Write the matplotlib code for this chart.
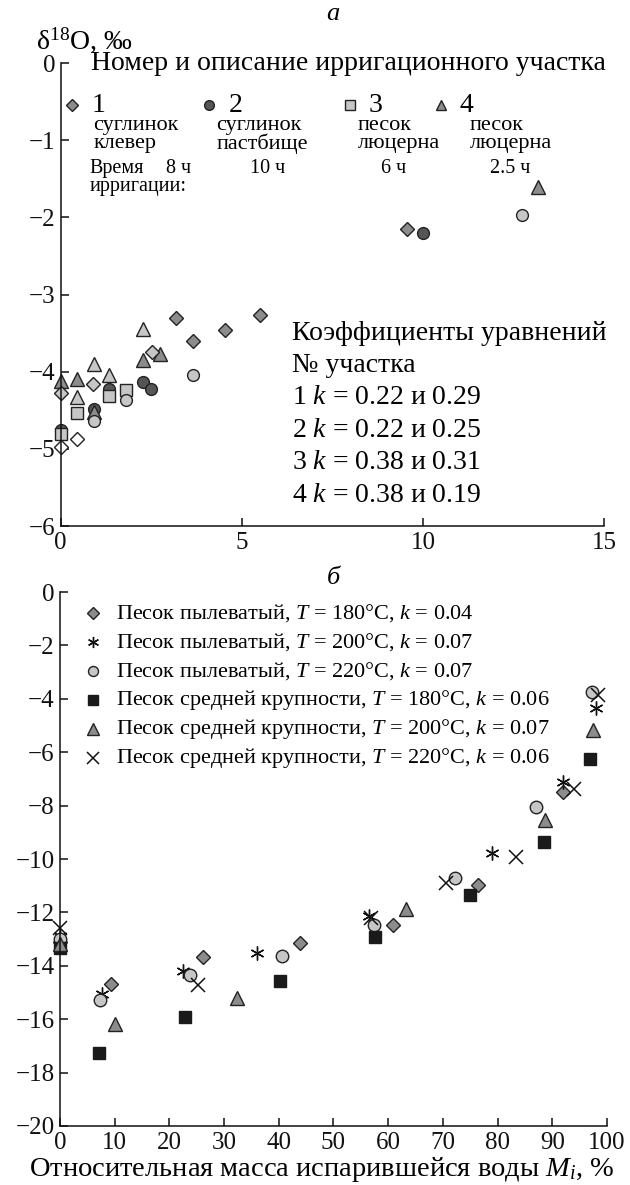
import matplotlib
matplotlib.use("Agg")
import matplotlib.pyplot as plt

plt.rcParams['font.family'] = ['Liberation Serif', 'DejaVu Serif']
plt.rcParams['mathtext.fontset'] = 'custom'
plt.rcParams['mathtext.rm'] = 'Liberation Serif'
plt.rcParams['mathtext.it'] = 'Liberation Serif:italic'
plt.rcParams['mathtext.bf'] = 'Liberation Serif:bold'

# ---------------- Panel a data ----------------
s1_x = [3.18, 3.64, 4.54, 5.49, 9.57]
s1_y = [-3.31, -3.60, -3.46, -3.26, -2.15]
s1l_x = [0.0, 0.90, 2.51]
s1l_y = [-4.28, -4.16, -3.75]
s1w_x = [0.0, 0.46]
s1w_y = [-4.98, -4.87]

s2_x = [0.0, 0.92, 1.34, 2.26, 2.50, 10.0]
s2_y = [-4.75, -4.48, -4.22, -4.14, -4.22, -2.20]
s2l_x = [0.92, 1.80, 3.64, 12.74]
s2l_y = [-4.64, -4.37, -4.04, -1.97]

s3_x = [0.0, 0.46, 1.34, 1.80]
s3_y = [-4.81, -4.53, -4.31, -4.24]

s4_x = [0.0, 0.46, 0.92, 2.26, 2.74, 13.19]
s4_y = [-4.12, -4.10, -4.52, -3.85, -3.77, -1.60]
s4l_x = [0.46, 0.92, 1.34, 2.26]
s4l_y = [-4.33, -3.90, -4.04, -3.45]

site_numbers = ['1', '2', '3', '4']
site_desc = ['суглинок\nклевер', 'суглинок\nпастбище', 'песок\nлюцерна', 'песок\nлюцерна']
site_time = ['8 ч', '10 ч', '6 ч', '2.5 ч']
coef_lines = ['Коэффициенты уравнений', '№ участка',
              '1 $k$ = 0.22 и 0.29', '2 $k$ = 0.22 и 0.25',
              '3 $k$ = 0.38 и 0.31', '4 $k$ = 0.38 и 0.19']

# ---------------- Panel b data ----------------
d1_x = [0, 9.3, 26.2, 43.9, 60.9, 76.5, 92.0]
d1_y = [-13.1, -14.69, -13.68, -13.13, -12.47, -10.97, -7.48]
d2_x = [0, 7.6, 22.4, 36.1, 56.4, 78.9, 91.9, 98.0]
d2_y = [-12.9, -15.07, -14.18, -13.51, -12.15, -9.76, -7.10, -4.35]
d3_x = [0, 7.4, 23.8, 40.5, 57.4, 72.2, 87.1, 97.3]
d3_y = [-13.0, -15.28, -14.34, -13.63, -12.47, -10.72, -8.06, -3.75]
d4_x = [0, 7.1, 22.9, 40.2, 57.6, 75.0, 88.5, 96.8]
d4_y = [-13.35, -17.25, -15.93, -14.56, -12.93, -11.35, -9.35, -6.27]
d5_x = [0, 10.05, 32.3, 63.3, 88.7, 97.5]
d5_y = [-13.2, -16.18, -15.22, -11.88, -8.54, -5.15]
d6_x = [0, 25.2, 56.8, 70.6, 83.4, 94.0, 98.4]
d6_y = [-12.6, -14.72, -12.22, -10.91, -9.94, -7.39, -3.85]

legend_b = ['Песок пылеватый, $T$ = 180°C, $k$ = 0.04',
            'Песок пылеватый, $T$ = 200°C, $k$ = 0.07',
            'Песок пылеватый, $T$ = 220°C, $k$ = 0.07',
            'Песок средней крупности, $T$ = 180°C, $k$ = 0.06',
            'Песок средней крупности, $T$ = 200°C, $k$ = 0.07',
            'Песок средней крупности, $T$ = 220°C, $k$ = 0.06']

xticks_a = [0, 5, 10, 15]
yticks_a = [0, -1, -2, -3, -4, -5, -6]
xticks_b = [0, 10, 20, 30, 40, 50, 60, 70, 80, 90, 100]
yticks_b = [0, -2, -4, -6, -8, -10, -12, -14, -16, -18, -20]

GRAY = '#8c8c8c'
DARK = '#555555'
LIGHT = '#c6c6c6'
EDGE = '#222222'

fig = plt.figure(figsize=(6.3, 11.85), dpi=100)
ax1 = fig.add_axes([0.0963, 0.5561, 0.8624, 0.3907])
ax2 = fig.add_axes([0.0952, 0.0498, 0.8683, 0.4506])

def style(ax, xt, yt, xl, yl):
    ax.set_xlim(*xl)
    ax.set_ylim(*yl)
    ax.set_xticks(xt)
    ax.set_yticks(yt)
    for s in ('top', 'right'):
        ax.spines[s].set_visible(False)
    for s in ('left', 'bottom'):
        ax.spines[s].set_linewidth(1.1)
        ax.spines[s].set_color('#111111')
    ax.tick_params(direction='in', length=6, width=1.1, labelsize=18, pad=4,
                   colors='#111111')

style(ax1, xticks_a, yticks_a, (0, 15), (-6, 0))
style(ax2, xticks_b, yticks_b, (0, 100), (-20, 0))

mk = dict(linestyle='none', markeredgecolor=EDGE, markeredgewidth=1.0, clip_on=False)

# Panel a
ax1.plot(s2_x, s2_y, marker='o', markersize=8.5, markerfacecolor=DARK, **mk)
ax1.plot(s3_x, s3_y, marker='s', markersize=8, markerfacecolor=LIGHT, **mk)
ax1.plot(s4_x, s4_y, marker='^', markersize=9.5, markerfacecolor=GRAY, **mk)
ax1.plot(s4l_x, s4l_y, marker='^', markersize=9.5, markerfacecolor=LIGHT, **mk)
ax1.plot(s2l_x, s2l_y, marker='o', markersize=8.5, markerfacecolor=LIGHT, **mk)
ax1.plot(s1_x, s1_y, marker='D', markersize=7.5, markerfacecolor=GRAY, **mk)
ax1.plot(s1l_x, s1l_y, marker='D', markersize=7.5, markerfacecolor=LIGHT, **mk)
ax1.plot(s1w_x, s1w_y, marker='D', markersize=7.5, markerfacecolor='white', **mk)

ax1.text(0.85, 0.0, 'Номер и описание ирригационного участка', fontsize=20,
         ha='left', va='center')
leg_marker_x = [0.3, 4.1, 8.0, 10.5]
leg_text_x = [0.85, 4.65, 8.5, 11.0]
desc_x = [0.9, 4.3, 8.2, 11.3]
time_x = [3.25, 5.7, 9.2, 12.4]
leg_markers = [('D', GRAY, 6), ('o', DARK, 7), ('s', LIGHT, 6.5), ('^', GRAY, 7.5)]
for i in range(4):
    m, c, ms = leg_markers[i]
    ax1.plot([leg_marker_x[i]], [-0.55], marker=m, markersize=ms,
             markerfacecolor=c, **mk)
    ax1.text(leg_text_x[i], -0.55, site_numbers[i], fontsize=20, ha='left', va='center')
    ax1.text(desc_x[i], -0.93, site_desc[i], fontsize=16, ha='left', va='center',
             linespacing=0.92)
    ax1.text(time_x[i], -1.37, site_time[i], fontsize=14.5, ha='center', va='center')
ax1.text(0.8, -1.37, 'Время', fontsize=14.5, ha='left', va='center')
ax1.text(0.8, -1.60, 'ирригации:', fontsize=14.5, ha='left', va='center')

for i, line in enumerate(coef_lines):
    ax1.text(6.4, -3.5 - 0.42 * i, line, fontsize=20, ha='left', va='center')

fig.text(36 / 630, 1 - 40 / 1185, 'δ$^{18}$O, $\\mathit{‰}$', fontsize=20,
         ha='left', va='center')
fig.text(333 / 630, 1 - 14 / 1185, 'а', fontsize=19, style='italic',
         ha='center', va='center')
fig.text(333 / 630, 1 - 578 / 1185, 'б', fontsize=19, style='italic',
         ha='center', va='center')

# Panel b
mk2 = dict(linestyle='none', clip_on=False)
series_b = [
    (d1_x, d1_y, dict(marker='D', markersize=7.5, markerfacecolor=GRAY,
                      markeredgecolor=EDGE, markeredgewidth=1.0)),
    (d2_x, d2_y, dict(marker=(6, 2, 0), markersize=10, color='#111111',
                      markeredgewidth=1.0)),
    (d3_x, d3_y, dict(marker='o', markersize=9, markerfacecolor=LIGHT,
                      markeredgecolor=EDGE, markeredgewidth=1.0)),
    (d4_x, d4_y, dict(marker='s', markersize=8.5, markerfacecolor='#1a1a1a',
                      markeredgecolor='#1a1a1a', markeredgewidth=1.0)),
    (d5_x, d5_y, dict(marker='^', markersize=10, markerfacecolor=GRAY,
                      markeredgecolor=EDGE, markeredgewidth=1.0)),
    (d6_x, d6_y, dict(marker='x', markersize=10, color='#111111',
                      markeredgewidth=1.1)),
]
for x, y, st in series_b:
    ax2.plot(x, y, **st, **mk2)

for i, (x, y, st) in enumerate(series_b):
    row_y = -0.8 - 1.08 * i
    st2 = dict(st)
    st2['markersize'] = st['markersize'] * 0.8
    ax2.plot([6.0], [row_y], **st2, **mk2)
    ax2.text(10.2, row_y, legend_b[i], fontsize=16, ha='left', va='center')

ax2.set_xlabel('Относительная масса испарившейся воды $M_i$, %', fontsize=20.5,
               labelpad=1)
ax2.xaxis.set_label_coords(0.478, -0.055)

fig.savefig('out.png', dpi=100)
